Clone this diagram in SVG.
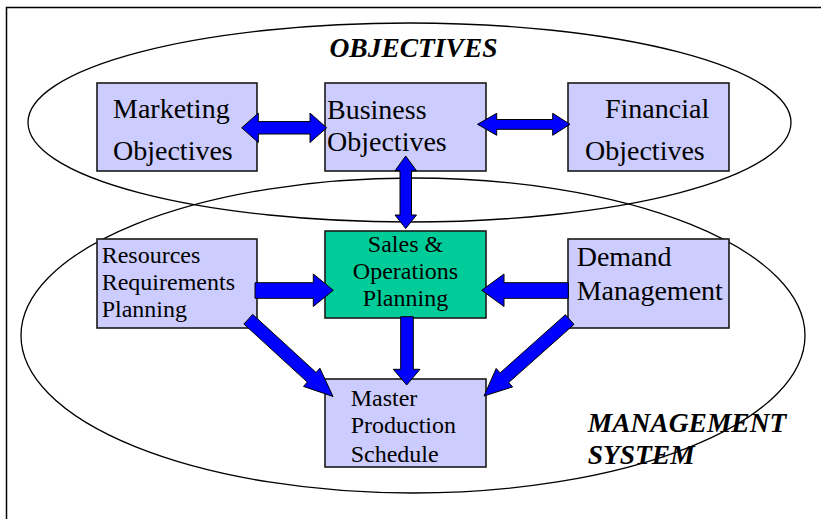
<svg xmlns="http://www.w3.org/2000/svg" width="821" height="519" viewBox="0 0 821 519">
<style>
.bg{fill:#fff}
.frame{fill:none;stroke:#000;stroke-width:1.5}
.ell{fill:none;stroke:#000;stroke-width:1.3}
.box{fill:#CCCCFF;stroke:#1a1a1a;stroke-width:1.6}
.green{fill:#00CC99;stroke:#1a1a1a;stroke-width:1.6}
.arr{fill:#0000FF;stroke:#000;stroke-width:1}
text{font-family:'Liberation Serif',Tinos,'Times New Roman','Nimbus Roman','DejaVu Serif',serif;fill:#000}
.t28{font-size:28px}
.t24{font-size:24px}
.title{font-size:27.5px;font-weight:bold;font-style:italic}
</style>
<rect class="bg" x="0" y="0" width="821" height="519"/>
<path class="frame" d="M6.5,519 V7.5 H821"/>
<text id="label-mgmt" class="title" x="587.7" y="431.7" font-family="Liberation Serif, serif">MANAGEMENT<tspan x="587.7" y="464">SYSTEM</tspan></text>
<g id="ellipses">
<ellipse id="objectives-ellipse" class="ell" cx="409.5" cy="122.5" rx="381.5" ry="99.5"/>
<ellipse id="management-ellipse" class="ell" cx="413" cy="335.5" rx="392" ry="157.5"/>
</g>
<text id="label-objectives" class="title" x="413.5" y="56.7" text-anchor="middle">OBJECTIVES</text>
<g id="marketing">
<rect class="box" x="97" y="83" width="160" height="88"/>
<text class="t28" x="113" y="118">Marketing</text>
<text class="t28" x="113" y="160">Objectives</text>
</g>
<g id="business">
<rect class="box" x="325" y="83" width="161" height="88"/>
<text class="t28" x="327" y="119">Business</text>
<text class="t28" x="327" y="151">Objectives</text>
</g>
<g id="financial">
<rect class="box" x="568" y="83" width="161" height="88"/>
<text class="t28" x="605" y="118">Financial</text>
<text class="t28" x="585" y="160">Objectives</text>
</g>
<g id="resources">
<rect class="box" x="97" y="239" width="160" height="89"/>
<text class="t24" x="101.7" y="263">Resources</text>
<text class="t24" x="101.7" y="290">Requirements</text>
<text class="t24" x="101.7" y="317">Planning</text>
</g>
<g id="sop">
<rect class="green" x="325" y="231" width="161" height="87"/>
<text class="t24" x="405.5" y="252" text-anchor="middle">Sales &amp;</text>
<text class="t24" x="405.5" y="279" text-anchor="middle">Operations</text>
<text class="t24" x="405.5" y="306" text-anchor="middle">Planning</text>
</g>
<g id="demand">
<rect class="box" x="568" y="239" width="161" height="89"/>
<text class="t28" x="576.7" y="265.7">Demand</text>
<text class="t28" x="576.7" y="300">Management</text>
</g>
<g id="mps">
<rect class="box" x="325" y="379" width="161" height="88"/>
<text class="t24" x="350.7" y="406">Master</text>
<text class="t24" x="350.7" y="433.3">Production</text>
<text class="t24" x="350.7" y="461.7">Schedule</text>
</g>
<g id="connectors">
<polygon class="arr" points="241.7,127.8 258.3,113.1 258.3,121.6 310,121.6 310,113.1 326.7,127.8 310,142.5 310,134 258.3,134 258.3,142.5"/>
<polygon class="arr" points="477.5,124.3 496.7,113.3 496.7,119.5 552.7,119.5 552.7,113.3 570,124.3 552.7,135.3 552.7,129.3 496.7,129.3 496.7,135.3"/>
<polygon class="arr" points="405.7,156 416.5,170.7 411.5,170.7 411.5,215 416.5,215 405.7,228.5 395,215 400,215 400,170.7 395,170.7"/>
<polygon class="arr" points="255,282.7 313.3,282.7 313.3,274 333.3,290.3 313.3,306.5 313.3,298.3 255,298.3"/>
<polygon class="arr" points="568.3,282.7 504,282.7 504,274 481.7,290.3 504,306.5 504,298.3 568.3,298.3"/>
<polygon class="arr" points="400.7,316.7 413.3,316.7 413.3,369.3 420,369.3 406.7,385 393.3,369.3 400.7,369.3"/>
<polygon class="arr" points="252.7,314.4 316.1,372.5 319.9,368.2 333,396.5 303.5,386.4 307.3,382.1 243.9,324.0"/>
<polygon class="arr" points="565.4,314.7 500.1,372.9 496.2,368.5 484,396 512.6,386.9 508.7,382.5 574.0,324.4"/>
</g>
</svg>
